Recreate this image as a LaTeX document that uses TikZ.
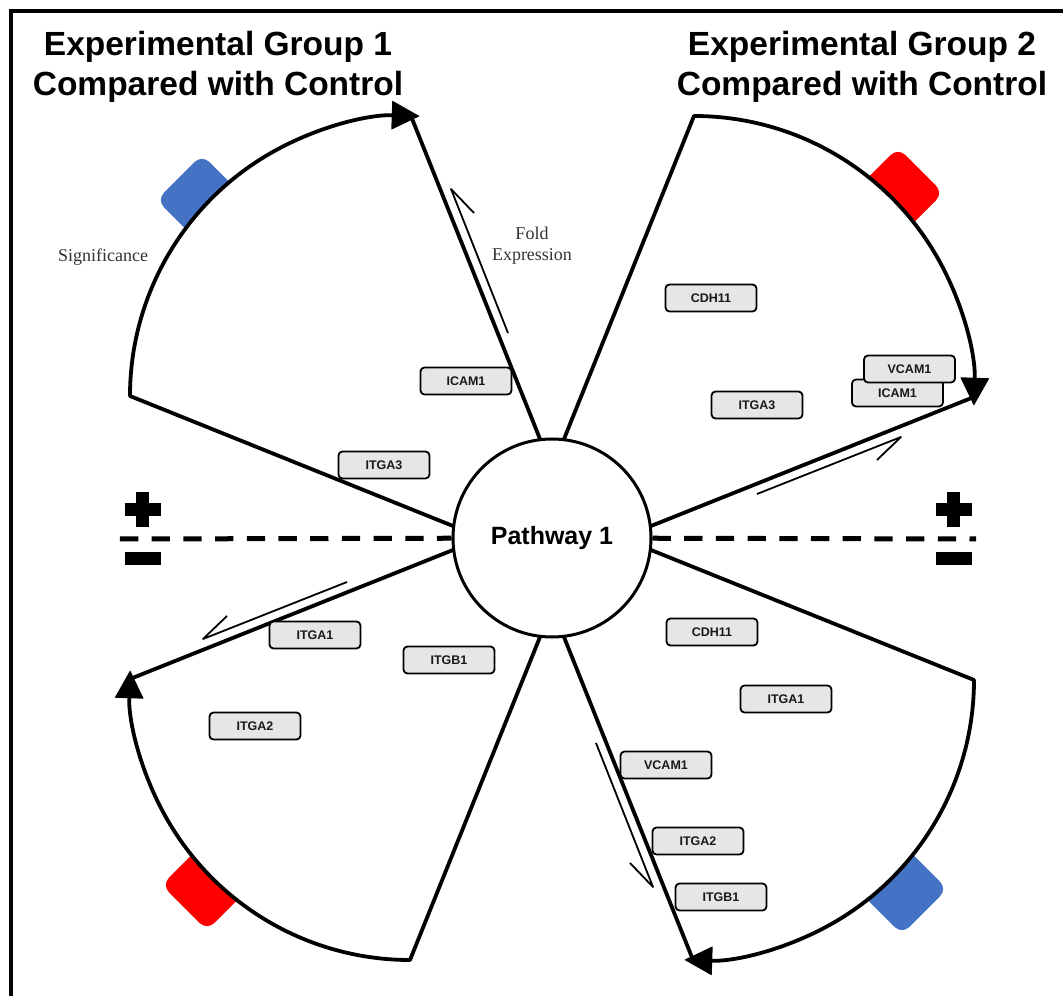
\documentclass[tikz,border=0pt]{standalone}
\usepackage{fontspec}
\setmainfont{Liberation Serif}
\newfontfamily\arialf{Liberation Sans}
\usetikzlibrary{arrows.meta}
\definecolor{sigblue}{HTML}{4472C4}
\definecolor{sigred}{HTML}{FF0000}
\definecolor{boxgrey}{HTML}{E6E6E6}
\begin{document}
\begin{tikzpicture}[x=1pt,y=1pt,
  wline/.style={line width=3.8pt, line cap=round, line join=round},
  foldarrow/.style={line width=1.8pt, line join=round, line cap=butt},
  gene/.style={draw=black, line width=1.8pt, fill=boxgrey, rounded corners=4pt,
    minimum width=91pt, minimum height=27pt, inner sep=0pt,
    font=\arialf\bfseries\fontsize{12.5}{14}\selectfont, text=black!90},
  sigmark/.style={rotate=45, minimum size=64pt, inner sep=0pt, rounded corners=10pt},
  titletext/.style={font=\arialf\bfseries\fontsize{33.5}{40}\selectfont, anchor=base, inner sep=0pt},
  annot/.style={font=\fontsize{18}{21}\selectfont, text=black!80, align=center, inner sep=0pt}
]
\useasboundingbox (-552,-458) rectangle (511,538);

% frame (left and top edges visible)
\coordinate (fr1) at (-541,-470);
\coordinate (fr2) at (-541,527);
\coordinate (fr3) at (520,527);
\draw[line width=4pt] (fr1) -- (fr2) -- (fr3);

% titles
\node[titletext] (t1a) at (-334,482) {Experimental Group 1};
\node[titletext] (t1b) at (-334,442) {Compared with Control};
\node[titletext] (t2a) at (310,482) {Experimental Group 2};
\node[titletext] (t2b) at (310,442) {Compared with Control};

% significance markers (partly hidden behind the white wedges)
\node[sigmark, fill=sigblue] (m-tl) at (-350,338) {};
\node[sigmark, fill=sigred]  (m-tr) at (346,345) {};
\node[sigmark, fill=sigblue] (m-br) at (350,-351) {};
\node[sigmark, fill=sigred]  (m-bl) at (-345,-347) {};

% four wedges (rotations of the top-left one)
\foreach \r/\nm in {0/tl,-90/tr,-180/br,-270/bl} {
\begin{scope}[rotate=\r]
  \coordinate (\nm-ai) at (-99,12);
  \coordinate (\nm-bi) at (-12,99);
  \coordinate (\nm-a) at (-422,142);
  \coordinate (\nm-b) at (-141,422);
  \fill[white] (\nm-ai) -- (\nm-a) arc[start angle=180, end angle=90, radius=280] -- (\nm-b) -- (\nm-bi) -- cycle;
  \draw[wline] (\nm-ai) -- (\nm-a);
  \draw[wline] (\nm-bi) -- (\nm-b);
  \draw[wline, -{Triangle[length=28pt,width=28pt]}] (\nm-a) arc[start angle=180, end angle=88, radius=280];
  \coordinate (\nm-fs) at (-44,205);
  \coordinate (\nm-ft) at (-101,349);
  \coordinate (\nm-fb) at (-78,325);
  \draw[foldarrow] (\nm-fs) -- (\nm-ft) -- (\nm-fb);
\end{scope}
}

% hub
\node[circle, draw, line width=3pt, fill=white, minimum size=198pt, inner sep=0pt,
  font=\arialf\bfseries\fontsize{25}{30}\selectfont] (hub) at (0,0) {Pathway 1};

% dashed baseline
\coordinate (dl0) at (-432,-1);
\coordinate (dr0) at (424,-1);
\draw[line width=5pt, dash pattern=on 18.3pt off 13.4pt] (dl0) -- (hub);
\draw[line width=5pt, dash pattern=on 18.3pt off 13.4pt] (hub) -- (dr0);

% plus / minus signs
\foreach \dx in {0,811} {
  \fill ([xshift=\dx]-416,11) rectangle ([xshift=\dx]-403,46);
  \fill ([xshift=\dx]-427,22) rectangle ([xshift=\dx]-391.3,35);
  \fill ([xshift=\dx]-427,-27) rectangle ([xshift=\dx]-391.3,-14);
}

% annotations
\node[annot, anchor=north] (fold) at (-20,311) {Fold\\Expression};
\node[annot, anchor=base] (sig) at (-449,276) {Significance};

% gene labels
\node[gene] (tl-icam1) at (-86,157) {ICAM1};
\node[gene] (tl-itga3) at (-168,73) {ITGA3};

\node[gene] (tr-cdh11) at (159,240) {CDH11};
\node[gene] (tr-itga3) at (205,133) {ITGA3};
\node[gene] (tr-icam1) at (345.5,145) {ICAM1};
\node[gene] (tr-vcam1) at (357.5,169) {VCAM1};

\node[gene] (br-cdh11) at (160,-94) {CDH11};
\node[gene] (br-itga1) at (234,-161) {ITGA1};
\node[gene] (br-vcam1) at (114,-227) {VCAM1};
\node[gene] (br-itga2) at (146,-303) {ITGA2};
\node[gene] (br-itgb1) at (169,-359) {ITGB1};

\node[gene] (bl-itga1) at (-237,-97) {ITGA1};
\node[gene] (bl-itgb1) at (-103,-122) {ITGB1};
\node[gene] (bl-itga2) at (-297,-188) {ITGA2};
\end{tikzpicture}
\end{document}
